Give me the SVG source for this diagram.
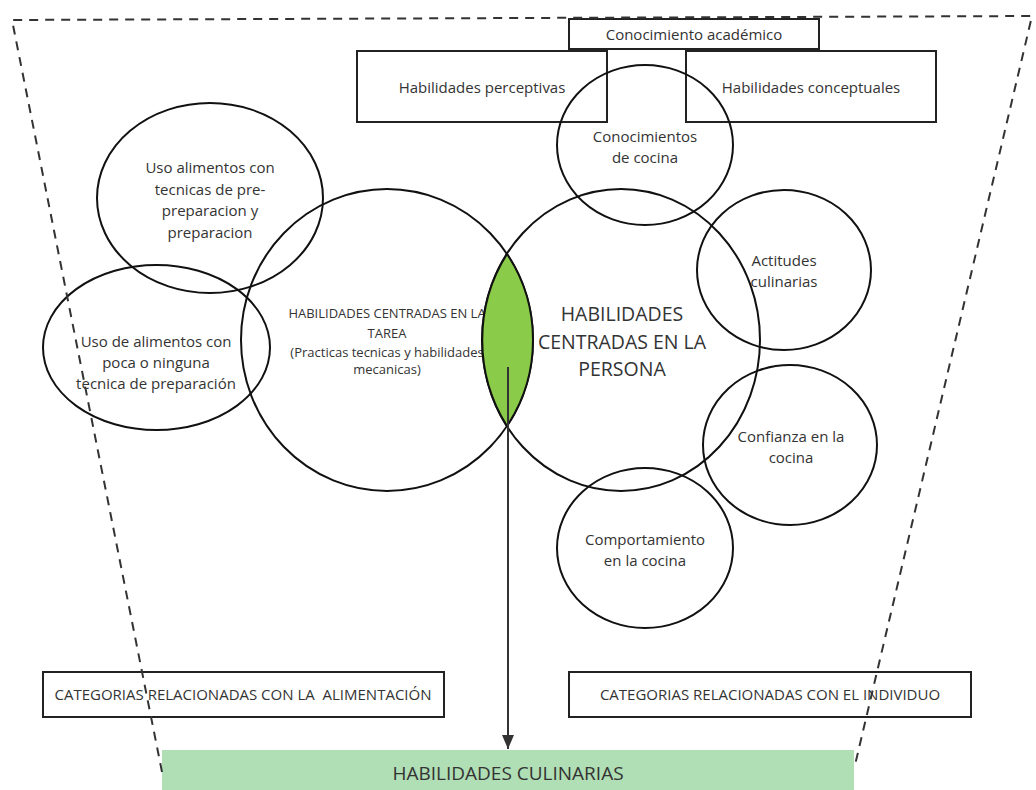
<svg xmlns="http://www.w3.org/2000/svg" width="1036" height="790" viewBox="0 0 1036 790">
<defs>
<style>
.t{font-family:"Open Sans","Liberation Sans",sans-serif;fill:#333;text-anchor:middle}
.c{fill:none;stroke:#111;stroke-width:2}
.b{fill:none;stroke:#222;stroke-width:2}
.d{fill:none;stroke:#333;stroke-width:2;stroke-dasharray:9 7}
</style>
<marker id="ah" viewBox="0 0 14 12" refX="14" refY="6" markerWidth="14" markerHeight="12" markerUnits="userSpaceOnUse" orient="auto">
<path d="M0,0 L14,6 L0,12 Z" fill="#333"/>
</marker>
</defs>
<rect width="1036" height="790" fill="#fff"/>
<g id="bar">
<rect x="162" y="750" width="692" height="40" fill="#b0deb5"/>
<text class="t" x="508" y="780" font-size="19">HABILIDADES CULINARIAS</text>
</g>
<g id="box-academico">
<rect class="b" x="569" y="19" width="250" height="30"/>
<text class="t" x="694" y="39.5" font-size="15">Conocimiento académico</text>
</g>
<g id="box-perceptivas">
<rect class="b" x="357" y="51" width="250" height="71"/>
<text class="t" x="482" y="92.5" font-size="15">Habilidades perceptivas</text>
</g>
<g id="box-conceptuales">
<rect class="b" x="686" y="51" width="250" height="71"/>
<text class="t" x="811" y="92.5" font-size="15">Habilidades conceptuales</text>
</g>
<g id="box-alimentacion">
<rect class="b" x="43" y="672" width="401" height="45"/>
<text class="t" x="243" y="699.5" font-size="15" xml:space="preserve">CATEGORIAS RELACIONADAS CON LA  ALIMENTACIÓN</text>
</g>
<g id="box-individuo">
<rect class="b" x="569" y="672" width="402" height="45"/>
<text class="t" x="770" y="699.5" font-size="15">CATEGORIAS RELACIONADAS CON EL INDIVIDUO</text>
</g>
<g id="uso-tecnicas">
<ellipse class="c" cx="210" cy="198" rx="113" ry="95"/>
<text class="t" font-size="15"><tspan x="210" y="173">Uso alimentos con</tspan><tspan x="210" y="194.5">tecnicas de pre-</tspan><tspan x="210" y="216">preparacion y</tspan><tspan x="210" y="237.5">preparacion</tspan></text>
</g>
<g id="uso-poca">
<ellipse class="c" cx="156.5" cy="347.5" rx="113.5" ry="82.5"/>
<text class="t" font-size="15"><tspan x="156" y="346.5">Uso de alimentos con</tspan><tspan x="156" y="367.5">poca o ninguna</tspan><tspan x="156" y="388.5">tecnica de preparación</tspan></text>
</g>
<g id="tarea">
<ellipse class="c" cx="387" cy="340" rx="146" ry="151"/>
<text class="t" font-size="13" fill="#444"><tspan x="387" y="317.5">HABILIDADES CENTRADAS EN LA</tspan><tspan x="387" y="337.5">TAREA</tspan><tspan x="387" y="356.5">(Practicas tecnicas y habilidades</tspan><tspan x="387" y="373.5">mecanicas)</tspan></text>
</g>
<g id="persona">
<ellipse class="c" cx="621" cy="340" rx="139" ry="151"/>
<text class="t" font-size="19.5"><tspan x="622" y="321">HABILIDADES</tspan><tspan x="622" y="349">CENTRADAS EN LA</tspan><tspan x="622" y="376">PERSONA</tspan></text>
</g>
<g id="lens">
<path d="M507,254 A139,151 0 0 0 507,426 A146,151 0 0 0 507,254 Z" fill="#8bcb4a" stroke="#111" stroke-width="2"/>
</g>
<g id="conocimientos">
<ellipse class="c" cx="645" cy="145" rx="88" ry="80"/>
<text class="t" font-size="15"><tspan x="645" y="141.5">Conocimientos</tspan><tspan x="645" y="162.5">de cocina</tspan></text>
</g>
<g id="actitudes">
<ellipse class="c" cx="784" cy="270" rx="87" ry="80"/>
<text class="t" font-size="15"><tspan x="784" y="265.5">Actitudes</tspan><tspan x="784" y="286.5">culinarias</tspan></text>
</g>
<g id="confianza">
<ellipse class="c" cx="790" cy="445" rx="87" ry="80"/>
<text class="t" font-size="15"><tspan x="791" y="441.5">Confianza en la</tspan><tspan x="791" y="462.5">cocina</tspan></text>
</g>
<g id="comportamiento">
<ellipse class="c" cx="645" cy="548" rx="88" ry="80"/>
<text class="t" font-size="15"><tspan x="645" y="544.5">Comportamiento</tspan><tspan x="645" y="565.5">en la cocina</tspan></text>
</g>
<g id="connectors">
<line x1="508" y1="367" x2="508" y2="749" stroke="#333" stroke-width="2" marker-end="url(#ah)"/>
<path class="d" d="M162,772 L12,20 L1032,16 L855,765"/>
</g>
</svg>
